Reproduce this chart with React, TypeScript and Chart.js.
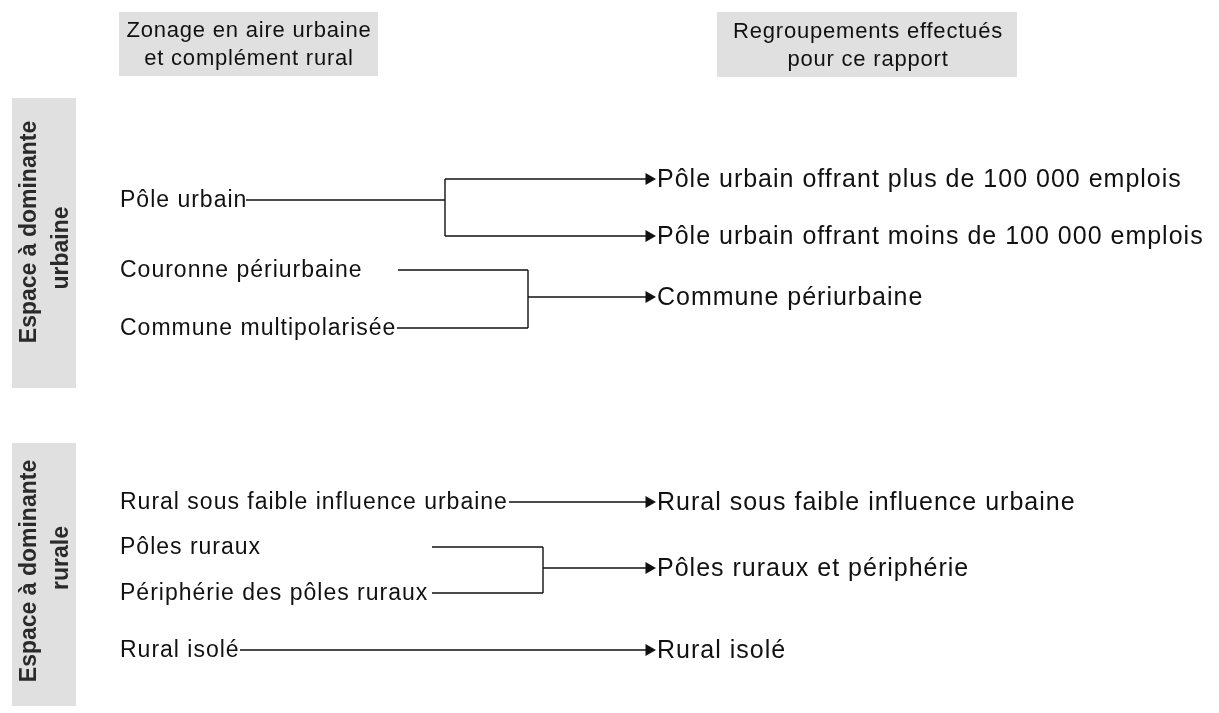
import React, { useEffect, useRef } from "react";
import { Chart, registerables } from "chart.js";

Chart.register(...registerables);

// ---- Data ----
const headerLeft = ["Zonage en aire urbaine", "et complément rural"];
const headerRight = ["Regroupements effectués", "pour ce rapport"];
const groupUrban = ["Espace à dominante", "urbaine"];
const groupRural = ["Espace à dominante", "rurale"];

const sourceLabels = [
  "Pôle urbain",
  "Couronne périurbaine",
  "Commune multipolarisée",
  "Rural sous faible influence urbaine",
  "Pôles ruraux",
  "Périphérie des pôles ruraux",
  "Rural isolé",
];
const sourceY = [200, 270, 328, 502, 547, 593, 650];
const sourceLineStartX = [246, 398, 397, 509, 432, 432, 240];

const targetLabels = [
  "Pôle urbain offrant plus de 100 000 emplois",
  "Pôle urbain offrant moins de 100 000 emplois",
  "Commune périurbaine",
  "Rural sous faible influence urbaine",
  "Pôles ruraux et périphérie",
  "Rural isolé",
];
const targetY = [179, 236, 297, 502, 568, 650];

// links: which sources feed which targets, and x of the joining bracket
const linkSources = [[0], [1, 2], [3], [4, 5], [6]];
const linkTargets = [[0, 1], [2], [3], [4], [5]];
const linkJoinX = [445, 528, null, 543, null];

const SOURCE_X = 120;
const ARROW_TIP_X = 656;
const TARGET_X = 657;
const ARROW_R = 7;

type P = { x: number; y: number };

function buildSegments(): P[][] {
  const segs: P[][] = [];
  linkSources.forEach((srcs, i) => {
    const tgts = linkTargets[i];
    const jx = linkJoinX[i];
    const end = ARROW_TIP_X - ARROW_R;
    if (jx === null) {
      const s = srcs[0];
      segs.push([
        { x: sourceLineStartX[s], y: sourceY[s] },
        { x: end, y: targetY[tgts[0]] },
      ]);
      return;
    }
    srcs.forEach((s) => {
      segs.push([
        { x: sourceLineStartX[s], y: sourceY[s] },
        { x: jx, y: sourceY[s] },
      ]);
    });
    const ys = [...srcs.map((s) => sourceY[s]), ...tgts.map((t) => targetY[t])];
    segs.push([
      { x: jx, y: Math.min(...ys) },
      { x: jx, y: Math.max(...ys) },
    ]);
    tgts.forEach((t) => {
      segs.push([
        { x: jx, y: targetY[t] },
        { x: end, y: targetY[t] },
      ]);
    });
  });
  return segs;
}

const FONT = '"Liberation Sans", Arial, sans-serif';

const diagramPlugin = {
  id: "diagramText",
  beforeDatasetsDraw(chart: any) {
    const { ctx, scales } = chart;
    const X = (v: number) => scales.x.getPixelForValue(v);
    const Y = (v: number) => scales.y.getPixelForValue(v);
    ctx.save();
    ctx.fillStyle = "#e0e0e0";
    const rect = (x0: number, y0: number, x1: number, y1: number) =>
      ctx.fillRect(X(x0), Y(y0), X(x1) - X(x0), Y(y1) - Y(y0));
    rect(119, 12, 378, 76);
    rect(717, 12, 1017, 77);
    rect(12, 98, 76, 388);
    rect(12, 443, 76, 706);
    ctx.restore();
  },
  afterDatasetsDraw(chart: any) {
    const { ctx, scales } = chart;
    const X = (v: number) => scales.x.getPixelForValue(v);
    const Y = (v: number) => scales.y.getPixelForValue(v);
    ctx.save();
    ctx.fillStyle = "#111111";
    ctx.textBaseline = "middle";
    // headers
    ctx.font = `22px ${FONT}`;
    ctx.letterSpacing = "0.8px";
    ctx.textAlign = "center";
    ctx.fillText(headerLeft[0], X(249), Y(31));
    ctx.fillText(headerLeft[1], X(249), Y(59));
    ctx.fillText(headerRight[0], X(868), Y(32));
    ctx.fillText(headerRight[1], X(868), Y(60));
    // side groups (rotated)
    ctx.font = `bold 23px ${FONT}`;
    ctx.letterSpacing = "0px";
    ctx.fillStyle = "#2a2a2a";
    const vtext = (t: string, x: number, y: number) => {
      ctx.save();
      ctx.translate(X(x), Y(y));
      ctx.rotate(-Math.PI / 2);
      ctx.fillText(t, 0, 0);
      ctx.restore();
    };
    vtext(groupUrban[0], 30, 232);
    vtext(groupUrban[1], 62, 248);
    vtext(groupRural[0], 30, 571);
    vtext(groupRural[1], 62, 558);
    // labels
    ctx.fillStyle = "#111111";
    ctx.textAlign = "left";
    ctx.font = `23px ${FONT}`;
    ctx.letterSpacing = "1px";
    sourceLabels.forEach((t, i) => ctx.fillText(t, X(SOURCE_X), Y(sourceY[i] + 1)));
    ctx.font = `25px ${FONT}`;
    ctx.letterSpacing = "1px";
    targetLabels.forEach((t, i) => ctx.fillText(t, X(TARGET_X), Y(targetY[i] + 1)));
    ctx.restore();
  },
};

export default function App() {
  const ref = useRef<HTMLCanvasElement | null>(null);
  useEffect(() => {
    if (!ref.current) return;
    const segs = buildSegments();
    const datasets: any[] = segs.map((s) => ({
      type: "line",
      data: s,
      borderColor: "#111111",
      borderWidth: 1.4,
      pointRadius: 0,
      fill: false,
      tension: 0,
      clip: false,
    }));
    datasets.push({
      type: "scatter",
      data: targetY.map((y) => ({ x: ARROW_TIP_X - ARROW_R, y })),
      pointStyle: "triangle",
      rotation: 90,
      pointRadius: ARROW_R,
      backgroundColor: "#111111",
      borderColor: "#111111",
      borderWidth: 0,
      clip: false,
    });
    const chart = new Chart(ref.current, {
      type: "scatter",
      data: { datasets },
      options: {
        animation: false,
        responsive: true,
        maintainAspectRatio: false,
        layout: { padding: 0, autoPadding: false },
        events: [],
        scales: {
          x: { type: "linear", min: 0, max: 1219, display: false },
          y: { type: "linear", min: 0, max: 713, reverse: true, display: false },
        },
        plugins: { legend: { display: false }, tooltip: { enabled: false } },
      },
      plugins: [diagramPlugin],
    });
    return () => chart.destroy();
  }, []);
  return (
    <div style={{ position: "fixed", left: 0, top: 0, width: "1219px", height: "713px", background: "#fff" }}>
      <canvas ref={ref} />
    </div>
  );
}
